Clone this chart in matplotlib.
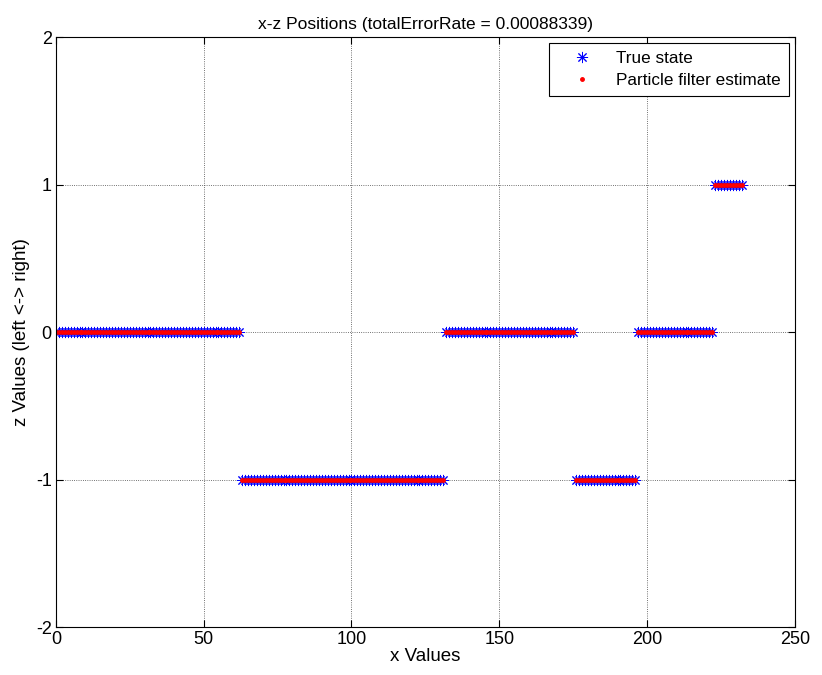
import numpy as np
import matplotlib
matplotlib.use("Agg")
import matplotlib.pyplot as plt

plt.rcParams['font.family'] = ['Liberation Sans', 'DejaVu Sans']
plt.rcParams['axes.unicode_minus'] = False

# step segments of the true state (x start, x end, z level)
seg_start = [0, 63, 132, 176, 197, 223]
seg_end = [62, 131, 175, 196, 222, 232]
seg_level = [0, -1, 0, -1, 0, 1]

x_vals = np.concatenate([np.arange(s, e + 1) for s, e in zip(seg_start, seg_end)])
z_true = np.concatenate([np.full(e - s + 1, lv) for s, e, lv in zip(seg_start, seg_end, seg_level)])
z_est = z_true.copy()

fig = plt.figure(figsize=(8.22, 6.75), dpi=100)
ax = fig.add_axes([0.068, 0.071, 0.899, 0.874])

# matlab-like asterisk marker
ax.plot(x_vals, z_true, linestyle='none', marker=(8, 2, 0), color='#0000ff',
        markersize=8, markeredgewidth=0.7, label='True state')
ax.plot(x_vals, z_est, '.', color='#ff0000', markersize=5, label='Particle filter estimate')

ax.set_xlim(0, 250)
ax.set_ylim(-2, 2)
ax.set_xticks([0, 50, 100, 150, 200, 250])
ax.set_yticks([-2, -1, 0, 1, 2])
ax.tick_params(direction='in', labelsize=13, top=True, right=True, length=5, pad=3)
ax.grid(True, linestyle=':', color='#444444', linewidth=0.6)
for sp in ax.spines.values():
    sp.set_linewidth(0.8)

ax.set_xlabel('x Values', fontsize=13.5, labelpad=0)
ax.set_ylabel('z Values (left <-> right)', fontsize=13.5, labelpad=4)
ax.set_title('x-z Positions (totalErrorRate = 0.00088339)', fontsize=12.5, pad=6)

leg = ax.legend(loc='upper right', fontsize=12.3, fancybox=False, framealpha=1,
                edgecolor='black', borderaxespad=0.35, handletextpad=0.5,
                borderpad=0.45, labelspacing=0.45, handlelength=3.0)
leg.get_frame().set_linewidth(0.8)

fig.savefig('out.png', dpi=100)
